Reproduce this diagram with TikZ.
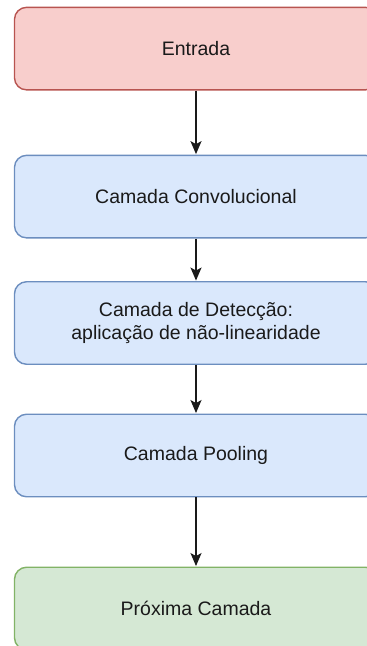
\documentclass[tikz,border=0pt]{standalone}
\usepackage{fontspec}
\setmainfont{Liberation Sans}
\usetikzlibrary{arrows.meta}
\definecolor{redfill}{HTML}{F8CECC}
\definecolor{redline}{HTML}{B85450}
\definecolor{bluefill}{HTML}{DAE8FC}
\definecolor{blueline}{HTML}{6C8EBF}
\definecolor{greenfill}{HTML}{D5E8D4}
\definecolor{greenline}{HTML}{82B366}
\definecolor{ink}{HTML}{1A1A1A}
\tikzset{
  layer/.style={rounded corners=12pt, line width=1.4pt, minimum width=363pt,
    minimum height=82.5pt, align=center, text=ink, inner sep=0pt,
    font=\fontsize{19.5}{23}\selectfont},
  inputlayer/.style={layer, draw=redline, fill=redfill},
  hiddenlayer/.style={layer, draw=blueline, fill=bluefill},
  outputlayer/.style={layer, draw=greenline, fill=greenfill},
  flow/.style={line width=1.6pt, draw=ink,
    -{Stealth[length=13pt, width=11pt, inset=3pt]}, shorten >=0.5pt}
}
\begin{document}
\begin{tikzpicture}[x=1pt, y=-1pt]
  \useasboundingbox (0,0) rectangle (367,646);
  \clip (0,0) rectangle (367,646);
  \node[inputlayer]  (entrada) at (196,48.6)  {Entrada};
  \node[hiddenlayer] (conv)    at (196,196.6) {Camada Convolucional};
  \node[hiddenlayer] (detec)   at (196,323)   {Camada de Detecção:\\aplicação de não-linearidade};
  \node[hiddenlayer] (pool)    at (196,455.5) {Camada Pooling};
  \node[outputlayer] (prox)    at (196,608.5) {Próxima Camada};
  \draw[flow] (entrada) -- (conv);
  \draw[flow] (conv) -- (detec);
  \draw[flow] (detec) -- (pool);
  \draw[flow] (pool) -- (prox);
\end{tikzpicture}
\end{document}
